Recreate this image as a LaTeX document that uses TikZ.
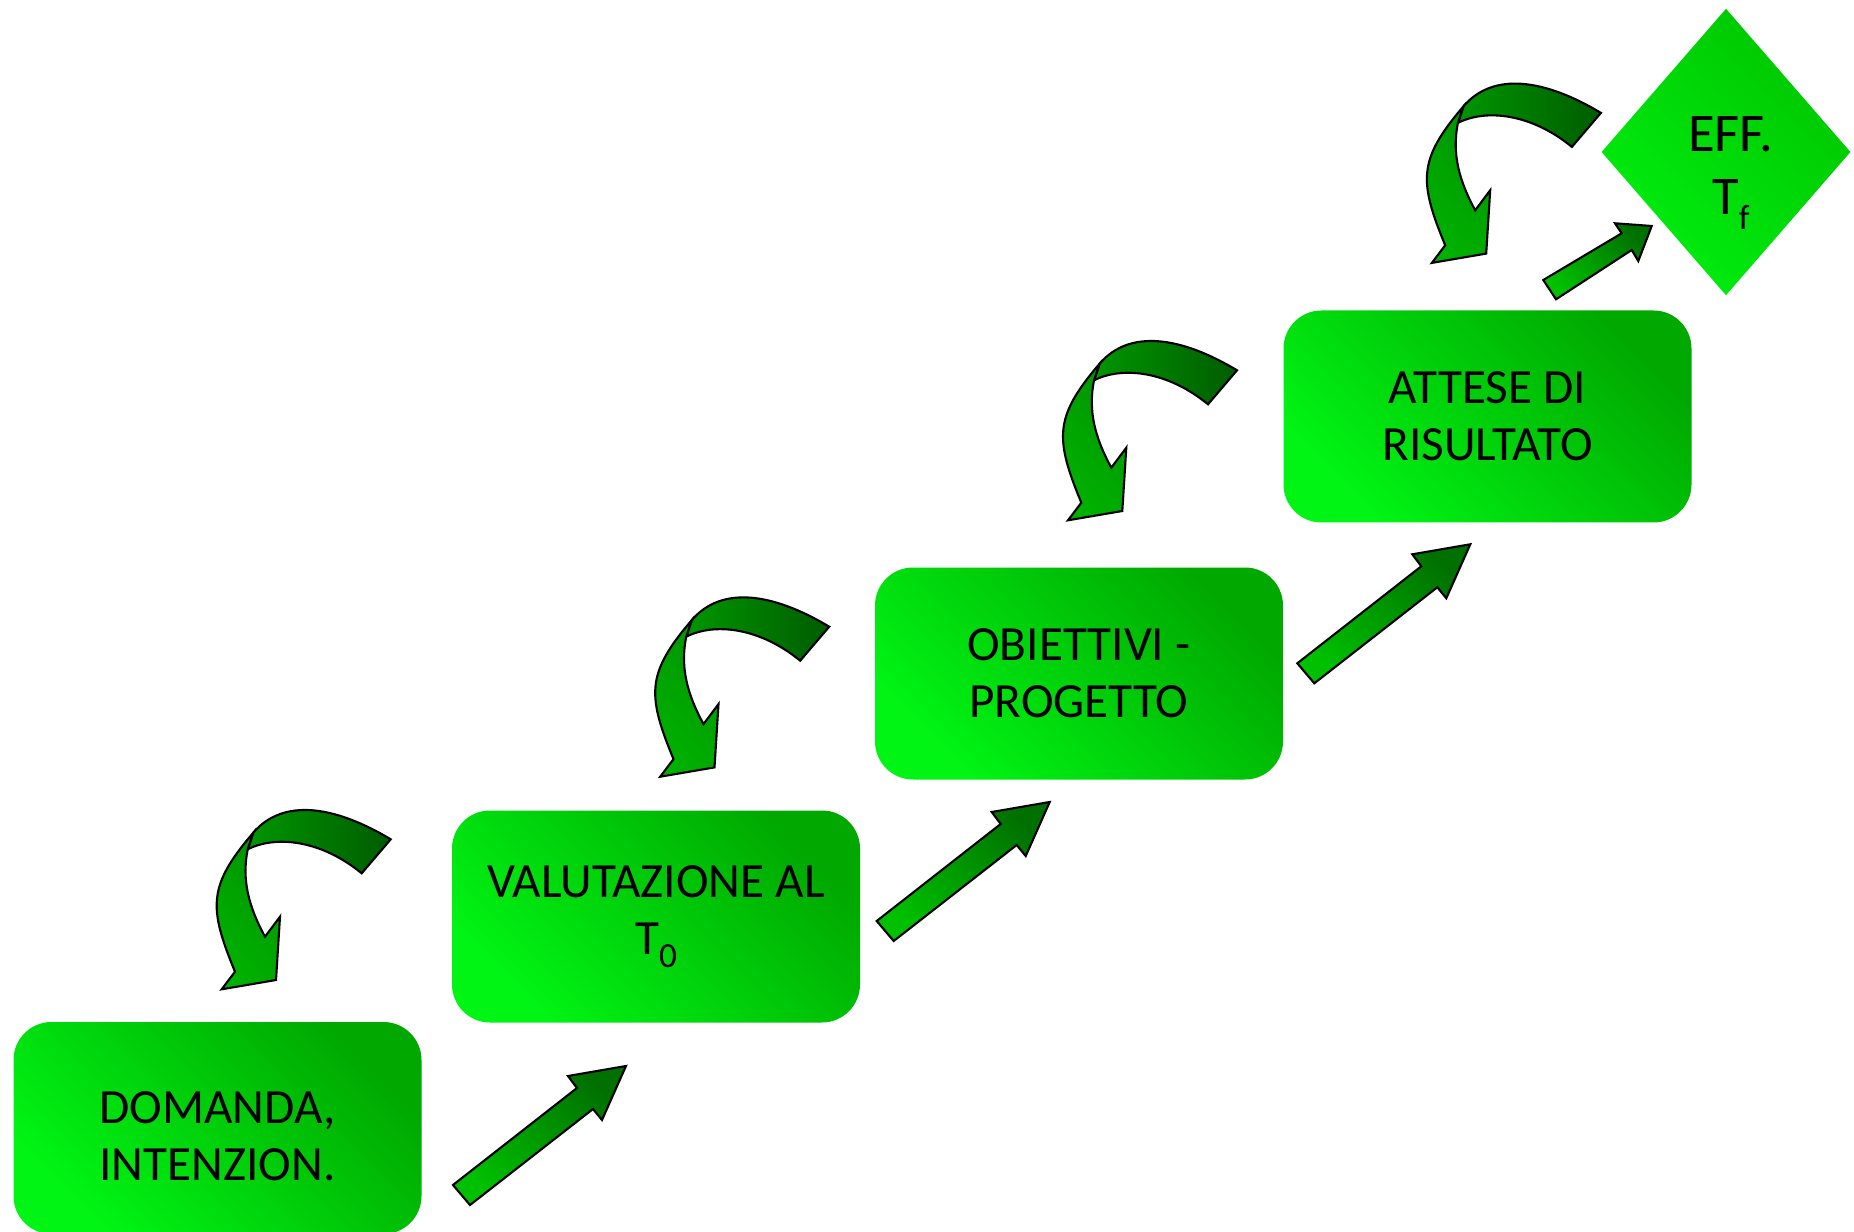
\documentclass[tikz,border=0pt]{standalone}
\usepackage{fontspec}
\setmainfont{Carlito}
\usetikzlibrary{shapes.geometric, positioning}

\definecolor{boxlight}{RGB}{0,245,20}
\definecolor{boxdark}{RGB}{0,168,0}
\definecolor{goallight}{RGB}{0,238,16}
\definecolor{goaldark}{RGB}{0,198,0}
\definecolor{arrowlight}{RGB}{0,192,0}
\definecolor{arrowdark}{RGB}{0,112,0}
\definecolor{bandlight}{RGB}{0,150,0}
\definecolor{banddark}{RGB}{0,92,0}
\definecolor{frontlight}{RGB}{0,178,0}
\definecolor{frontdark}{RGB}{0,150,0}

\newcommand{\lowidx}[1]{\raisebox{-0.26em}{\fontsize{10}{10}\selectfont #1}}

\begin{document}
\begin{tikzpicture}[x=0.1mm, y=-0.1mm,
  stage/.style={rectangle, rounded corners=3.8mm, minimum width=40.8mm, minimum height=21.2mm,
    left color=boxlight, right color=boxdark, shading angle=135,
    align=center, font=\fontsize{14}{16.2}\selectfont},
  goal/.style={diamond, minimum width=24.8mm, minimum height=28.7mm, inner sep=0pt,
    left color=goallight, right color=goaldark, shading angle=135,
    align=center, font=\fontsize{15.5}{17.9}\selectfont},
  blockarrow/.style={draw=black, line width=0.6pt, line join=miter,
    left color=arrowlight, right color=arrowdark, shading angle=135},
  backband/.style={draw=black, line width=0.6pt, left color=bandlight, right color=banddark},
  frontband/.style={draw=black, line width=0.6pt, left color=frontlight, right color=frontdark, shading angle=135},
  stepup/.pic={
    \filldraw[blockarrow] (0,0) -- (124,-97) -- (115,-109) -- (173,-119) -- (149,-65)
      -- (140,-76) -- (17,20) -- cycle;
  },
  loopback/.pic={
    % band going back over the top
    \filldraw[backband] (114.7,-140.7) .. controls (58.7,-174.3) and (7.2,-182.3) .. (-22.7,-147.3)
      -- (-28.3,-130.7) .. controls (0,-145) and (45,-140) .. (85.7,-106.7) -- cycle;
    % band coming down, with its head
    \filldraw[frontband] (-22.7,-147.3) .. controls (-68.2,-94.1) and (-67.6,-72.7) .. (-41,-8.3)
      -- (-54.3,9.3) -- (0,0) -- (4,-63.3) -- (-11,-43.3)
      .. controls (-27.8,-74.1) and (-34.3,-100.7) .. (-28.3,-130.7) -- cycle;
  }]
\useasboundingbox (0,0) rectangle (1854,1232);
\clip (0,0) rectangle (1854,1232);

% Stages
\node[stage] (domanda) at (217.5,1128) {\rule{0pt}{4.9mm}DOMANDA,\\INTENZION.};
\node[stage] (valutazione) at (656,916.5) {VALUTAZIONE AL\\T\lowidx{0}};
\node[stage] (obiettivi) at (1079,673.5) {OBIETTIVI -\\PROGETTO};
\node[stage] (attese) at (1487.5,416.5) {ATTESE DI\\RISULTATO};
\node[goal] (eff) at (1726,152) {\rule{0pt}{7.7mm}\hspace*{1mm}EFF.\\\hspace*{1mm}T\lowidx{f}};

% Arrows up the steps
\pic at (453,1185) {stepup};
\pic at (876.7,921) {stepup};
\pic at (1297.3,663.3) {stepup};
\filldraw[blockarrow] (1543.3,280) -- (1621.7,233.3) -- (1615,223.3) -- (1651.7,226)
  -- (1638.3,261) -- (1631.7,250) -- (1556,299.3) -- cycle;

% Loops over each stage
\pic at (276,980) {loopback};
\pic at (714.5,767.4) {loopback};
\pic at (1122.3,511) {loopback};
\pic at (1486.2,253.6) {loopback};
\end{tikzpicture}
\end{document}
